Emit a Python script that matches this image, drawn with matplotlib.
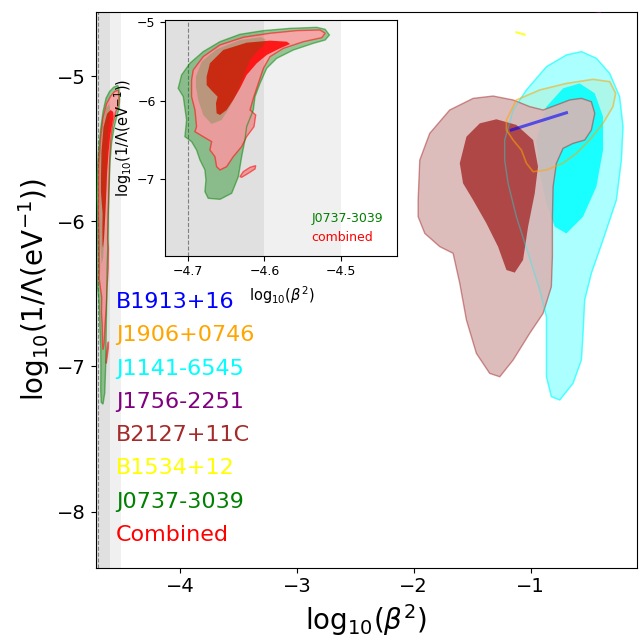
import matplotlib
matplotlib.use('Agg')
import matplotlib.pyplot as plt
import numpy as np

# --- credible regions: (log10 beta^2, log10 1/Lambda) ---
# J0737-3039
j0737_outer_x = [-4.7122, -4.7078, -4.6970, -4.6796, -4.6578, -4.6318, -4.6013, -4.5666, -4.5318, -4.5209,
                 -4.5153, -4.5209, -4.5362, -4.5622, -4.5840, -4.5970, -4.6057, -4.6122, -4.6144, -4.6231,
                 -4.6253, -4.6296, -4.6339, -4.6426, -4.6578, -4.6731, -4.6774, -4.6761, -4.6774, -4.6839,
                 -4.6883, -4.6948, -4.7035, -4.7013, -4.7056]
j0737_outer_y = [-5.843, -5.672, -5.523, -5.374, -5.247, -5.153, -5.106, -5.077, -5.064, -5.089,
                 -5.162, -5.226, -5.268, -5.353, -5.460, -5.587, -5.779, -5.949, -6.119, -6.332,
                 -6.502, -6.715, -6.970, -7.183, -7.260, -7.247, -7.162, -7.013, -6.885, -6.757,
                 -6.630, -6.523, -6.460, -6.247, -5.949]
j0737_inner_x = [-4.6891, -4.6817, -4.6622, -4.6318, -4.6050, -4.5980, -4.6000, -4.6060, -4.6120, -4.6187,
                 -4.6274, -4.6361, -4.6448, -4.6557, -4.6687, -4.6796, -4.6861, -4.6891]
j0737_inner_y = [-5.694, -5.502, -5.345, -5.226, -5.190, -5.220, -5.280, -5.340, -5.400, -5.481,
                 -5.694, -5.906, -6.077, -6.247, -6.298, -6.183, -5.991, -5.821]
# combined
comb_outer_x = [-4.6948, -4.6926, -4.6796, -4.6578, -4.6274, -4.5927, -4.5579, -4.5275, -4.5209, -4.5253,
                -4.5492, -4.5753, -4.5927, -4.6013, -4.6079, -4.6144, -4.6187, -4.6113, -4.6135, -4.6231,
                -4.6296, -4.6405, -4.6492, -4.6578, -4.6622, -4.6644, -4.6709, -4.6687, -4.6796, -4.6904,
                -4.6883, -4.6904, -4.6948]
comb_outer_y = [-5.736, -5.609, -5.438, -5.289, -5.191, -5.140, -5.106, -5.098, -5.140, -5.196,
                -5.247, -5.332, -5.438, -5.587, -5.779, -5.970, -6.119, -6.183, -6.332, -6.460,
                -6.587, -6.715, -6.843, -6.885, -6.843, -6.715, -6.630, -6.523, -6.460, -6.396,
                -6.332, -6.119, -5.949]
comb_blob_x = [-4.6318, -4.6274, -4.6187, -4.6113, -4.6122, -4.6209, -4.6296]
comb_blob_y = [-6.970, -6.906, -6.851, -6.830, -6.872, -6.928, -6.979]
comb_inner_x = [-4.6752, -4.6752, -4.6709, -4.6535, -4.6231, -4.5927, -4.5709, -4.5666, -4.5796, -4.5970,
                -4.6100, -4.6231, -4.6318, -4.6405, -4.6492, -4.6578, -4.6622, -4.6631, -4.6609, -4.6687]
comb_inner_y = [-5.800, -5.694, -5.523, -5.353, -5.260, -5.234, -5.247, -5.277, -5.332, -5.417,
                -5.523, -5.672, -5.843, -5.991, -6.119, -6.183, -6.162, -6.034, -5.949, -5.872]
# B2127+11C
b2127_outer_x = [-1.963, -1.949, -1.864, -1.693, -1.493, -1.322, -1.151, -1.009, -0.895, -0.781,
                 -0.667, -0.567, -0.482, -0.453, -0.482, -0.539, -0.639, -0.724, -0.781, -0.809,
                 -0.815, -0.815, -0.824, -0.895, -1.009, -1.151, -1.265, -1.351, -1.465, -1.550,
                 -1.607, -1.664, -1.778, -1.906, -1.963]
b2127_outer_y = [-5.854, -5.579, -5.395, -5.234, -5.154, -5.138, -5.165, -5.211, -5.234, -5.200,
                 -5.165, -5.154, -5.177, -5.257, -5.372, -5.441, -5.464, -5.498, -5.601, -5.762,
                 -5.969, -6.244, -6.451, -6.635, -6.772, -6.956, -7.071, -7.048, -6.910, -6.680,
                 -6.428, -6.221, -6.175, -6.084, -5.969]
b2127_inner_x = [-1.607, -1.550, -1.436, -1.294, -1.123, -0.980, -0.938, -0.966, -1.023, -1.066,
                 -1.137, -1.208, -1.280, -1.379, -1.493, -1.579]
b2127_inner_y = [-5.601, -5.418, -5.326, -5.298, -5.337, -5.441, -5.624, -5.808, -6.038, -6.267,
                 -6.354, -6.336, -6.175, -6.015, -5.854, -5.739]
# J1141-6545
j1141_outer_x = [-1.223, -1.151, -1.037, -0.866, -0.695, -0.567, -0.439, -0.325, -0.240, -0.211,
                 -0.225, -0.268, -0.382, -0.482, -0.539, -0.553, -0.567, -0.639, -0.752, -0.824,
                 -0.866, -0.866, -0.866, -0.923, -1.023, -1.123, -1.194, -1.223]
j1141_outer_y = [-5.441, -5.234, -5.096, -4.936, -4.855, -4.832, -4.878, -4.982, -5.142, -5.349,
                 -5.579, -5.854, -6.129, -6.359, -6.543, -6.772, -6.956, -7.117, -7.231, -7.208,
                 -7.071, -6.841, -6.658, -6.474, -6.221, -5.969, -5.739, -5.579]
j1141_inner_x = [-0.952, -0.866, -0.724, -0.582, -0.453, -0.382, -0.382, -0.439, -0.553, -0.695,
                 -0.795, -0.866, -0.923]
j1141_inner_y = [-5.441, -5.211, -5.085, -5.051, -5.119, -5.280, -5.510, -5.762, -5.969, -6.084,
                 -6.038, -5.877, -5.670]
# J1906+0746
j1906_x = [-1.208, -1.123, -0.923, -0.695, -0.468, -0.325, -0.274, -0.297, -0.382, -0.496,
           -0.610, -0.724, -0.866, -0.980, -1.037, -1.080, -1.151, -1.208]
j1906_y = [-5.303, -5.165, -5.096, -5.051, -5.023, -5.039, -5.119, -5.211, -5.326, -5.441,
           -5.533, -5.601, -5.647, -5.659, -5.601, -5.510, -5.441, -5.372]
# B1913+16, B1534+12, J1756-2251 (very thin regions)
b1913_x = [-1.166, -0.695]
b1913_y = [-5.372, -5.253]
b1534_x = [-1.123, -1.052]
b1534_y = [-4.699, -4.715]
j1756_x = [-0.45, -0.41]
j1756_y = [-4.553, -4.558]

names = ['B1913+16', 'J1906+0746', 'J1141-6545', 'J1756-2251', 'B2127+11C', 'B1534+12', 'J0737-3039', 'Combined']
colors = ['blue', 'orange', 'cyan', 'purple', 'brown', 'yellow', 'green', 'red']

spans = [(-5, -4.6, '#e0e0e0'), (-4.6, -4.5, '#f0f0f0'), (-4.5, 1, 'white')]


def region(ax, xs, ys, color, alpha, lw=1.0, ealpha=0.5, ecolor=None, z=3):
    p = ax.fill(xs, ys, facecolor=color, alpha=alpha, lw=0, zorder=z)[0]
    if ealpha > 0:
        ax.fill(xs, ys, facecolor='none', edgecolor=ecolor or color, alpha=ealpha, lw=lw, zorder=z)
    return p


def draw_strip(ax):
    for x0, x1, c in spans[:2]:
        ax.axvspan(x0, x1, color=c, lw=0, zorder=0)
    ax.axvline(-4.7, color='gray', ls='--', lw=0.8, zorder=1)
    region(ax, j0737_outer_x, j0737_outer_y, 'green', 0.38, ealpha=0.0, z=2)
    # pink region hides the green underneath: repaint background inside it
    for xs, ys in [(comb_outer_x, comb_outer_y), (comb_blob_x, comb_blob_y)]:
        clip = ax.fill(xs, ys, facecolor='none', lw=0, zorder=2.5)[0]
        for x0, x1, c in spans:
            bg = ax.axvspan(x0, x1, color=c, lw=0, zorder=2.5)
            bg.set_clip_path(clip)
        region(ax, xs, ys, 'red', 0.3, ealpha=0.55, z=3)
    region(ax, comb_inner_x, comb_inner_y, 'red', 0.85, ealpha=0.0, z=3.1)
    region(ax, j0737_inner_x, j0737_inner_y, 'green', 0.2, ealpha=0.0, z=3.2)
    ax.fill(j0737_outer_x, j0737_outer_y, facecolor='none', edgecolor='green',
            alpha=0.5, lw=1.0, zorder=3.3)


fig = plt.figure(figsize=(6.39, 6.38), dpi=100)
ax = fig.add_axes([0.1498, 0.1102, 0.847, 0.8715])
draw_strip(ax)

region(ax, j1906_x, j1906_y, 'orange', 0.12, ealpha=0.0)
region(ax, j1141_outer_x, j1141_outer_y, 'cyan', 0.33, ealpha=0.45, z=3.5)
region(ax, j1141_inner_x, j1141_inner_y, 'cyan', 0.85, ealpha=0.0, z=3.5)
region(ax, b2127_outer_x, b2127_outer_y, '#dab5b5', 0.9, ecolor='brown', ealpha=0.5, z=3.6)
region(ax, b2127_inner_x, b2127_inner_y, 'brown', 0.8, ealpha=0.0, z=3.6)
ax.fill(j1141_outer_x, j1141_outer_y, facecolor='none', edgecolor='cyan', alpha=0.35, lw=1.0, zorder=3.7)
ax.fill(j1906_x, j1906_y, facecolor='none', edgecolor='orange', alpha=0.55, lw=1.2, zorder=3.8)
ax.plot(b1913_x, b1913_y, color='blue', lw=2.2, alpha=0.6, zorder=4)
ax.plot(b1534_x, b1534_y, color='yellow', lw=1.5, alpha=0.8, zorder=4)
ax.plot(j1756_x, j1756_y, color='purple', lw=1.5, alpha=0.8, zorder=4)

ax.set_xlim(-4.72, -0.092)
ax.set_ylim(-8.386, -4.557)
ax.set_xticks([-4, -3, -2, -1])
ax.set_yticks([-8, -7, -6, -5])
ax.tick_params(labelsize=14)
ax.set_xlabel(r'log$_{10}$($\beta^2$)', fontsize=20)
ax.set_ylabel(r'log$_{10}$(1/$\Lambda$(eV$^{-1}$))', fontsize=20)

for i, (n, c) in enumerate(zip(names, colors)):
    ax.text(0.0375, 0.478 - i * 0.0599, n, color=c, fontsize=16,
            transform=ax.transAxes, va='center', ha='left', zorder=5)

# zoomed inset on the J0737 / combined strip
axin = fig.add_axes([0.2587, 0.5992, 0.363, 0.3695])
draw_strip(axin)
axin.set_xlim(-4.729, -4.427)
axin.set_ylim(-7.98, -4.97)
axin.set_xticks([-4.7, -4.6, -4.5])
axin.set_yticks([-7, -6, -5])
axin.tick_params(labelsize=9)
axin.set_xlabel(r'log$_{10}$($\beta^2$)', fontsize=10.5)
axin.set_ylabel(r'log$_{10}$(1/$\Lambda$(eV$^{-1}$))', fontsize=10.5, labelpad=2)
axin.text(0.631, 0.156, 'J0737-3039', color='green', fontsize=9, transform=axin.transAxes, va='center')
axin.text(0.631, 0.079, 'combined', color='red', fontsize=9, transform=axin.transAxes, va='center')

fig.savefig('out.png', dpi=100)
